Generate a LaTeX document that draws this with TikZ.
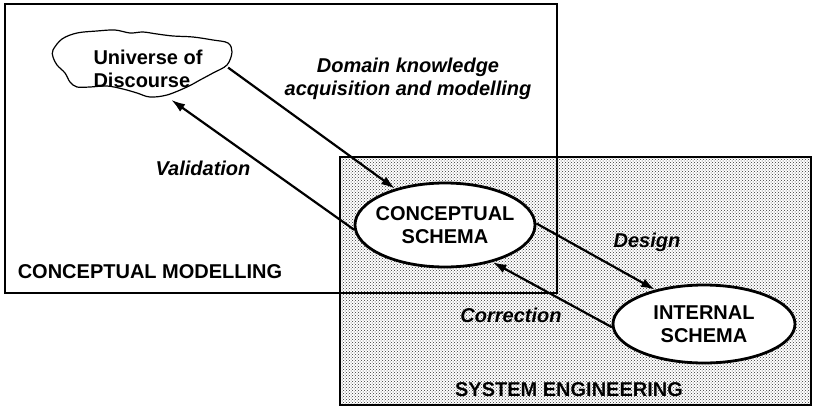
\documentclass[tikz,border=0pt]{standalone}
\usepackage{fontspec}
\setmainfont{Liberation Sans}
\usepackage{tikz}
\usetikzlibrary{arrows.meta, patterns, shapes.geometric}

\begin{document}
\begin{tikzpicture}[x=1pt, y=-1pt,
    every node/.style={font=\fontsize{20}{23}\selectfont\bfseries},
    schema/.style={ellipse, draw, line width=2.8pt, fill=white, align=center, inner sep=0pt},
    flow/.style={-{Latex[length=14pt,width=9pt]}, line width=2.2pt},
    flowlabel/.style={font=\fontsize{20}{23}\selectfont\bfseries\itshape, align=center}]

    \useasboundingbox (0,0) rectangle (814,407);

    % Areas
    \draw[line width=2.8pt, pattern=crosshatch dots, pattern color=black!80] (340,157) rectangle (811,405);
    \draw[line width=2.8pt] (5,4) rectangle (557,293);
    \node (cm) at (150,272) {CONCEPTUAL MODELLING};
    \node (se) at (569,390) {SYSTEM ENGINEERING};

    % Universe of discourse (cloud)
    \draw[line width=1.2pt] plot[smooth cycle, tension=0.55] coordinates {
        (53,50) (62,39) (77,33) (97,31) (115,30) (130,33) (143,32) (157,34)
        (173,36) (193,37) (213,40) (228,43) (232,52) (227,65) (213,73) (200,80)
        (187,87) (167,95) (150,97) (137,93) (123,89) (107,86) (90,87) (77,87)
        (70,82) (65,73) (57,65) (53,57)};
    \node[ellipse, minimum width=160pt, minimum height=64pt, inner sep=0pt, align=left] (uod) at (148,69) {Universe of\\Discourse};

    % Schemas
    \node[schema, minimum width=180pt, minimum height=84pt, inner xsep=-8pt] (cs) at (445,225) {CONCEPTUAL\\SCHEMA};
    \node[schema, minimum width=182pt, minimum height=78pt] (is) at (704,324) {INTERNAL\\SCHEMA};

    % Flows
    \draw[flow] (uod.1) -- (cs.144);
    \draw[flow] (cs.183) -- (uod.-53);
    \draw[flow] (cs.1) -- (is.145);
    \draw[flow] (is.182) -- (cs.-38);

    % Flow labels
    \node[flowlabel] (domain) at (408,79) {Domain knowledge\\acquisition and modelling};
    \node[flowlabel] (valid) at (203,168) {Validation};
    \node[flowlabel] (design) at (647,242) {Design};
    \node[flowlabel] (corr) at (511,315) {Correction};
\end{tikzpicture}
\end{document}
